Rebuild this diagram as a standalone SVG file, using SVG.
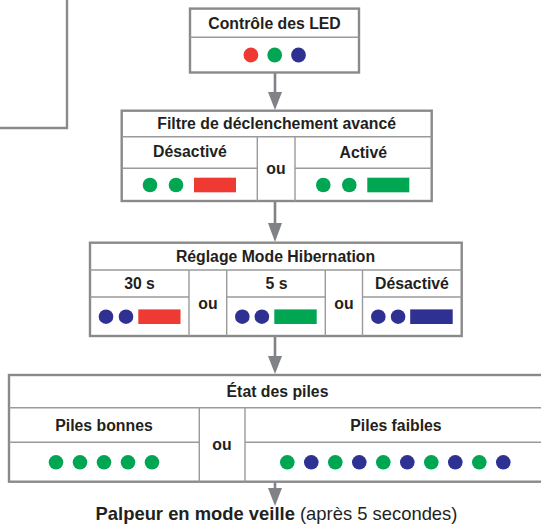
<svg xmlns="http://www.w3.org/2000/svg" width="541" height="526" viewBox="0 0 541 526">
<defs>
<style>
.box{fill:#fff;stroke:#8a8a8a;stroke-width:2.4}
.div{stroke:#9a9a9a;stroke-width:1.4;fill:none}
.t{font-family:"Liberation Sans",Arial,sans-serif;font-weight:bold;font-size:15.8px;fill:#231f20;text-anchor:middle}
.r{fill:#ee3a33}.g{fill:#00a651}.b{fill:#2e3192}
.conn{stroke:#808285;stroke-width:2.6;fill:none}
</style>
<marker id="ah" markerWidth="14" markerHeight="18" refX="7" refY="18" orient="auto-start-reverse" markerUnits="userSpaceOnUse" viewBox="0 0 14 18">
<path d="M0,0 L14,0 L7,18 Z" fill="#808285"/>
</marker>
</defs>
<rect width="541" height="526" fill="#fff"/>

<g id="partial-box">
<path d="M67,-2 V128 H-2" fill="none" stroke="#8a8a8a" stroke-width="2.4"/>
</g>

<g id="connectors">
<path class="conn" d="M275,72.5 V93"/>
<path d="M268,92 L282,92 L275,110 Z" fill="#808285"/>
<path class="conn" d="M275,201 V224"/>
<path d="M268,223 L282,223 L275,242 Z" fill="#808285"/>
<path class="conn" d="M275,336 V357"/>
<path d="M268,356 L282,356 L275,374 Z" fill="#808285"/>
<path class="conn" d="M275,482 V489"/>
<path d="M268,488 L282,488 L275,506 Z" fill="#808285"/>
</g>

<g id="controle-led">
<rect class="box" x="190" y="8.6" width="169" height="63.9"/>
<line class="div" x1="190" y1="37.3" x2="359" y2="37.3"/>
<text class="t" x="274.5" y="28.8">Contrôle des LED</text>
<circle class="r" cx="250.9" cy="55" r="7.4"/>
<circle class="g" cx="274.7" cy="55" r="7.4"/>
<circle class="b" cx="298.5" cy="55" r="7.4"/>
</g>

<g id="filtre">
<rect class="box" x="121.7" y="110.7" width="310" height="90.3"/>
<line class="div" x1="121.7" y1="136.7" x2="431.7" y2="136.7"/>
<line class="div" x1="121.7" y1="168.3" x2="257.3" y2="168.3"/>
<line class="div" x1="295" y1="168.3" x2="431.7" y2="168.3"/>
<line class="div" x1="257.3" y1="136.7" x2="257.3" y2="201"/>
<line class="div" x1="295" y1="136.7" x2="295" y2="201"/>
<text class="t" x="276.7" y="129">Filtre de déclenchement avancé</text>
<text class="t" x="190" y="157">Désactivé</text>
<text class="t" x="276" y="174.4">ou</text>
<text class="t" x="363.3" y="157.5">Activé</text>
<circle class="g" cx="150" cy="185" r="7.3"/>
<circle class="g" cx="176" cy="185" r="7.3"/>
<rect class="r" x="194" y="177.7" width="42" height="14.6"/>
<circle class="g" cx="323.3" cy="185" r="7.3"/>
<circle class="g" cx="349.3" cy="185" r="7.3"/>
<rect class="g" x="367.3" y="177.7" width="42" height="14.6"/>
</g>

<g id="hibernation">
<rect class="box" x="90" y="242.7" width="371.7" height="93.3"/>
<line class="div" x1="90" y1="270" x2="461.7" y2="270"/>
<line class="div" x1="90" y1="297" x2="189" y2="297"/>
<line class="div" x1="226.7" y1="297" x2="325.3" y2="297"/>
<line class="div" x1="362.5" y1="297" x2="461.7" y2="297"/>
<line class="div" x1="189" y1="270" x2="189" y2="336"/>
<line class="div" x1="226.7" y1="270" x2="226.7" y2="336"/>
<line class="div" x1="325.3" y1="270" x2="325.3" y2="336"/>
<line class="div" x1="362.5" y1="270" x2="362.5" y2="336"/>
<text class="t" x="275.5" y="262">Réglage Mode Hibernation</text>
<text class="t" x="139.5" y="289">30 s</text>
<text class="t" x="207.9" y="309">ou</text>
<text class="t" x="276.5" y="289">5 s</text>
<text class="t" x="343.9" y="309">ou</text>
<text class="t" x="412" y="289">Désactivé</text>
<circle class="b" cx="106" cy="316.7" r="7.3"/>
<circle class="b" cx="126" cy="316.7" r="7.3"/>
<rect class="r" x="138.3" y="309.4" width="42.2" height="14.6"/>
<circle class="b" cx="242.3" cy="316.7" r="7.3"/>
<circle class="b" cx="261.9" cy="316.7" r="7.3"/>
<rect class="g" x="274.3" y="309.4" width="42.4" height="14.6"/>
<circle class="b" cx="378.3" cy="316.7" r="7.3"/>
<circle class="b" cx="398.1" cy="316.7" r="7.3"/>
<rect class="b" x="410.2" y="309.4" width="42.5" height="14.6"/>
</g>

<g id="etat-piles">
<rect class="box" x="9" y="375" width="537" height="106.7"/>
<line class="div" x1="9" y1="407.7" x2="546" y2="407.7"/>
<line class="div" x1="9" y1="442.3" x2="199.3" y2="442.3"/>
<line class="div" x1="245" y1="442.3" x2="546" y2="442.3"/>
<line class="div" x1="199.3" y1="407.7" x2="199.3" y2="481.7"/>
<line class="div" x1="245" y1="407.7" x2="245" y2="481.7"/>
<text class="t" x="277.5" y="397">État des piles</text>
<text class="t" x="104" y="430.5">Piles bonnes</text>
<text class="t" x="222" y="450.3">ou</text>
<text class="t" x="396" y="430.5">Piles faibles</text>
<circle class="g" cx="56" cy="462.3" r="7.3"/>
<circle class="g" cx="80" cy="462.3" r="7.3"/>
<circle class="g" cx="104" cy="462.3" r="7.3"/>
<circle class="g" cx="128" cy="462.3" r="7.3"/>
<circle class="g" cx="152" cy="462.3" r="7.3"/>
<circle class="g" cx="287.3" cy="462.3" r="7.3"/>
<circle class="b" cx="311.3" cy="462.3" r="7.3"/>
<circle class="g" cx="335.3" cy="462.3" r="7.3"/>
<circle class="b" cx="359.3" cy="462.3" r="7.3"/>
<circle class="g" cx="383.3" cy="462.3" r="7.3"/>
<circle class="b" cx="407.3" cy="462.3" r="7.3"/>
<circle class="g" cx="431.3" cy="462.3" r="7.3"/>
<circle class="b" cx="455.3" cy="462.3" r="7.3"/>
<circle class="g" cx="479.3" cy="462.3" r="7.3"/>
<circle class="b" cx="503.3" cy="462.3" r="7.3"/>
</g>

<g id="veille">
<text x="276.5" y="520" font-family="'Liberation Sans',Arial,sans-serif" font-size="18.4" fill="#231f20" text-anchor="middle"><tspan font-weight="bold">Palpeur en mode veille</tspan> (après 5 secondes)</text>
</g>
</svg>
